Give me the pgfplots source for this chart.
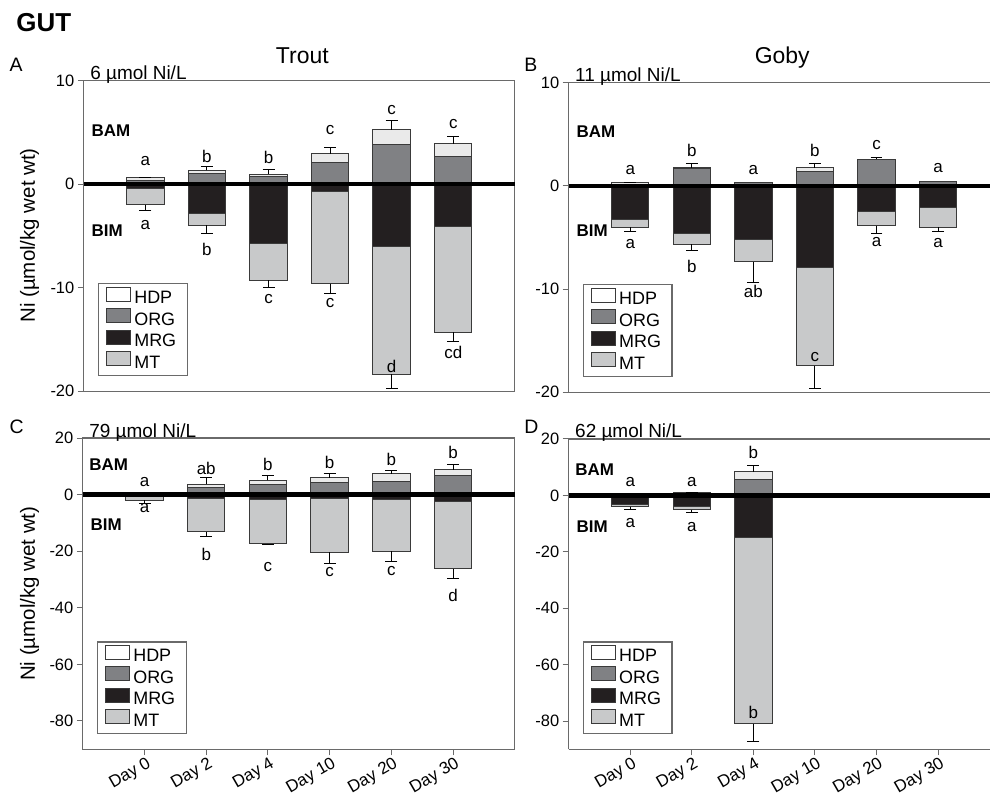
\documentclass[border=0pt]{standalone}
\usepackage{pgfplots}
\pgfplotsset{compat=1.18}
\usepackage{pgfplotstable}
\usepackage{fontspec}
\setmainfont{Liberation Sans}

\definecolor{hdpc}{HTML}{EAEAEA}
\definecolor{orgc}{HTML}{808184}
\definecolor{mrgc}{HTML}{231F20}
\definecolor{mtc}{HTML}{C8C9CA}
\definecolor{edgec}{HTML}{3A3A3A}
\definecolor{axc}{HTML}{6A6A6A}

% x: day index; org: top of ORG; tot: top of ORG+HDP; mrg: bottom of MRG; mtot: bottom of MRG+MT
% ep / em: error bar length above / below
\pgfplotstableread{
x org  tot  mrg   mtot   ep   em
0 0.38 0.62 -0.45 -1.96  0.00 0.54
1 1.03 1.35 -2.83 -3.98  0.33 0.77
2 0.77 0.97 -5.75 -9.29  0.45 0.71
3 2.12 2.93 -0.74 -9.60  0.61 1.00
4 3.89 5.27 -6.04 -18.35 0.90 1.35
5 2.70 3.92 -4.05 -14.33 0.71 0.87
}\tabA
\pgfplotstableread{
x org  tot  mrg   mtot   ep   em
0 0.00 0.32 -3.22 -4.03  0.00 0.35
1 1.70 1.74 -4.64 -5.67  0.42 0.61
2 0.29 0.29 -5.22 -7.38  0.00 1.96
3 1.42 1.74 -7.92 -17.42 0.39 2.23
4 2.55 2.58 -2.45 -3.86  0.22 0.74
5 0.39 0.39 -2.13 -4.03  0.00 0.37
}\tabB
\pgfplotstableread{
x org  tot  mrg   mtot   ep   em
0 0.50 0.50 -0.30 -2.00  0.00 1.20
1 2.60 3.70 -1.53 -13.20 2.30 1.60
2 3.64 5.05 -1.90 -17.40 1.85 0.30
3 4.20 6.00 -1.30 -20.40 1.30 3.80
4 4.80 7.40 -1.65 -20.10 1.20 3.50
5 6.70 8.80 -2.50 -26.20 1.90 3.30
}\tabC
\pgfplotstableread{
x org  tot  mrg   mtot   ep   em
0 0.30 0.35 -3.30 -4.00  0.00 1.00
1 0.80 0.94 -3.90 -5.10  0.00 1.10
2 5.65 8.35 -15.00 -81.00 2.25 6.30
}\tabD

\tikzset{
  lab/.style={font=\fontsize{17}{19}\selectfont},
  bam/.style={font=\fontsize{17}{19}\selectfont\bfseries, anchor=west},
}
\pgfplotsset{
  panel/.style={
    scale only axis,
    xmin=-1,
    xtick={0,...,5},
    xticklabels={Day 0,Day 2,Day 4,Day 10,Day 20,Day 30},
    tick align=outside, xtick pos=left, ytick pos=left,
    major tick length=6pt,
    axis line style={axc, line width=1.2pt},
    tick style={axc, line width=1pt},
    yticklabel style={font=\fontsize{16.5}{18}\selectfont},
    xticklabel style={font=\fontsize{17}{19}\selectfont, rotate=30, anchor=east, yshift=-9pt, xshift=4pt},
    /pgf/number format/assume math mode=true,
    legend cell align=left,
    legend style={at={(14pt,15pt)}, anchor=south west, draw=axc, line width=1.2pt,
      font=\fontsize{18}{20}\selectfont, inner xsep=8pt, inner ysep=3pt, row sep=0pt,
      nodes={inner xsep=3pt, inner ysep=1pt, text height=12.5pt, text depth=3.5pt},
      /tikz/every even column/.append style={column sep=3pt}},
    legend image code/.code={\draw[#1, line width=1pt] (0pt,-2pt) rectangle (24pt,12pt);},
    clip=false,
  },
  noxlab/.style={xtick=\empty},
  seg/.style={ybar, bar width=37.5pt, bar shift=0pt, draw=edgec, line width=1pt, forget plot},
  errp/.style={error bars/.cd, y dir=plus, y explicit,
     error bar style={black, line width=1pt}, error mark options={rotate=90, black, line width=1pt, mark size=6pt}},
  errm/.style={error bars/.cd, y dir=minus, y explicit,
     error bar style={black, line width=1pt}, error mark options={rotate=90, black, line width=1pt, mark size=6pt}},
}

\newcommand{\legendall}{%
  \addlegendimage{fill=white, draw=edgec}\addlegendentry{HDP}
  \addlegendimage{fill=orgc, draw=edgec}\addlegendentry{ORG}
  \addlegendimage{fill=mrgc, draw=edgec}\addlegendentry{MRG}
  \addlegendimage{fill=mtc, draw=edgec}\addlegendentry{MT}
}
\newcommand{\barsof}[1]{%
  \addplot[seg, fill=hdpc, errp] table[x=x, y=tot, y error=ep] {#1};
  \addplot[seg, fill=orgc] table[x=x, y=org] {#1};
  \addplot[seg, fill=mtc, errm] table[x=x, y=mtot, y error=em] {#1};
  \addplot[seg, fill=mrgc] table[x=x, y=mrg] {#1};
}

\begin{document}
\begin{tikzpicture}
\path (0pt,0pt) rectangle (992pt,802pt);

\node[anchor=base west, font=\fontsize{26}{30}\selectfont\bfseries] at (13pt,770pt) {GUT};
\node[anchor=base west, font=\fontsize{19.5}{22}\selectfont] at (6pt,730pt) {A};
\node[anchor=base west, font=\fontsize{19.5}{22}\selectfont] at (522pt,730pt) {B};
\node[anchor=base west, font=\fontsize{19.5}{22}\selectfont] at (6pt,368pt) {C};
\node[anchor=base west, font=\fontsize{19.5}{22}\selectfont] at (522pt,368pt) {D};
\node[anchor=base, font=\fontsize{23}{26}\selectfont] at (303pt,738pt) {Trout};
\node[anchor=base, font=\fontsize{23}{26}\selectfont] at (784pt,738pt) {Goby};
\node[anchor=base, rotate=90, font=\fontsize{20.5}{23}\selectfont] at (35pt,566pt) {Ni (µmol/kg wet wt)};
\node[anchor=base, rotate=90, font=\fontsize{20.5}{23}\selectfont] at (35pt,207pt) {Ni (µmol/kg wet wt)};

% ---------- A ----------
\begin{axis}[panel, noxlab, at={(84pt,410pt)}, anchor=south west, width=432pt, height=311pt, xmax=6,
  ymin=-20, ymax=10, ytick={-20,-10,0,10}]
\barsof{\tabA}
\legendall
\draw[black, line width=4.5pt] (axis cs:-1,0) -- (axis cs:6,0);
\node[anchor=base west, font=\fontsize{19}{21}\selectfont] at (rel axis cs:0,1) [xshift=3pt, yshift=1pt] {6 µmol Ni/L};
\node[bam] at (axis cs:-0.93,5.2) {BAM};
\node[bam] at (axis cs:-0.93,-4.5) {BIM};
\node[lab] at (axis cs:0,2.2) {a};
\node[lab] at (axis cs:1,2.7) {b};
\node[lab] at (axis cs:2,2.6) {b};
\node[lab] at (axis cs:3,5.2) {c};
\node[lab] at (axis cs:4,7.2) {c};
\node[lab] at (axis cs:5,5.8) {c};
\node[lab] at (axis cs:0,-3.9) {a};
\node[lab] at (axis cs:1,-6.3) {b};
\node[lab] at (axis cs:2,-11.05) {c};
\node[lab] at (axis cs:3,-11.5) {c};
\node[lab] at (axis cs:4,-17.6) {d};
\node[lab] at (axis cs:5,-16.3) {cd};
\end{axis}

% ---------- B (right side cut at picture edge) ----------
\begin{axis}[panel, noxlab, at={(570pt,409pt)}, anchor=south west, width=422pt, height=310pt, xmax=5.84,
  axis x line*=bottom, axis y line*=left,
  ymin=-20, ymax=10, ytick={-20,-10,0,10}]
\barsof{\tabB}
\legendall
\draw[axc, line width=1.2pt] (rel axis cs:0,1) -- (rel axis cs:1,1);
\draw[black, line width=4.5pt] (axis cs:-1,0) -- (axis cs:5.84,0);
\node[anchor=base west, font=\fontsize{19}{21}\selectfont] at (rel axis cs:0,1) [xshift=3pt, yshift=1pt] {11 µmol Ni/L};
\node[bam] at (axis cs:-0.93,5.3) {BAM};
\node[bam] at (axis cs:-0.93,-4.35) {BIM};
\node[lab] at (axis cs:0,1.5) {a};
\node[lab] at (axis cs:1,3.4) {b};
\node[lab] at (axis cs:2,1.5) {a};
\node[lab] at (axis cs:3,3.4) {b};
\node[lab] at (axis cs:4,4.0) {c};
\node[lab] at (axis cs:5,1.77) {a};
\node[lab] at (axis cs:0,-5.6) {a};
\node[lab] at (axis cs:1,-7.8) {b};
\node[lab] at (axis cs:2,-10.2) {ab};
\node[lab] at (axis cs:3,-16.6) {c};
\node[lab] at (axis cs:4,-5.4) {a};
\node[lab] at (axis cs:5,-5.5) {a};
\end{axis}

% ---------- C ----------
\begin{axis}[panel, at={(83pt,51pt)}, anchor=south west, width=433pt, height=312pt, xmax=6,
  ymin=-90, ymax=20, ytick={-80,-60,-40,-20,0,20}]
\barsof{\tabC}
\legendall
\draw[black, line width=4.5pt] (axis cs:-1,0) -- (axis cs:6,0);
\node[anchor=base west, font=\fontsize{19}{21}\selectfont] at (rel axis cs:0,1) [xshift=3pt, yshift=1pt] {79 µmol Ni/L};
\node[bam] at (axis cs:-0.95,10.7) {BAM};
\node[bam] at (axis cs:-0.93,-10.5) {BIM};
\node[lab] at (axis cs:0,4.6) {a};
\node[lab] at (axis cs:1,9.3) {ab};
\node[lab] at (axis cs:2,10.5) {b};
\node[lab] at (axis cs:3,11.3) {b};
\node[lab] at (axis cs:4,12.6) {b};
\node[lab] at (axis cs:5,14.8) {b};
\node[lab] at (axis cs:0,-4.6) {a};
\node[lab] at (axis cs:1,-21) {b};
\node[lab] at (axis cs:2,-25.6) {c};
\node[lab] at (axis cs:3,-27.5) {c};
\node[lab] at (axis cs:4,-26.9) {c};
\node[lab] at (axis cs:5,-35.7) {d};
\end{axis}

% ---------- D (right side cut at picture edge) ----------
\begin{axis}[panel, at={(570pt,51pt)}, anchor=south west, width=422pt, height=311pt, xmax=5.84,
  axis x line*=bottom, axis y line*=left,
  ymin=-90, ymax=20, ytick={-80,-60,-40,-20,0,20}]
\barsof{\tabD}
\legendall
\draw[axc, line width=1.2pt] (rel axis cs:0,1) -- (rel axis cs:1,1);
\draw[black, line width=4.5pt] (axis cs:-1,0) -- (axis cs:5.84,0);
\node[anchor=base west, font=\fontsize{19}{21}\selectfont] at (rel axis cs:0,1) [xshift=3pt, yshift=1pt] {62 µmol Ni/L};
\node[bam] at (axis cs:-0.95,9.3) {BAM};
\node[bam] at (axis cs:-0.93,-11.2) {BIM};
\node[lab] at (axis cs:0,4.7) {a};
\node[lab] at (axis cs:1,4.7) {a};
\node[lab] at (axis cs:2,15.3) {b};
\node[lab] at (axis cs:0,-9.8) {a};
\node[lab] at (axis cs:1,-11.2) {a};
\node[lab] at (axis cs:2,-77) {b};
\end{axis}
\end{tikzpicture}
\end{document}
